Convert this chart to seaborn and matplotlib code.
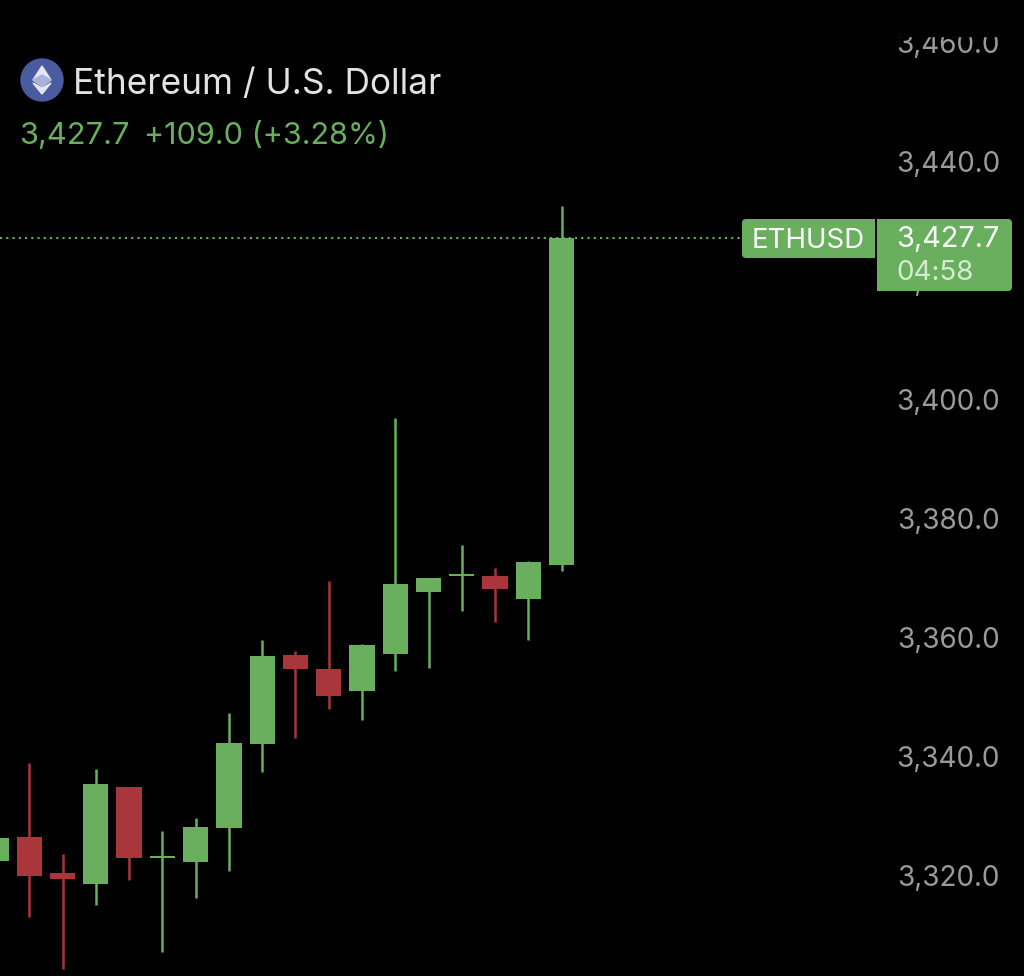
import numpy as np
import pandas as pd
import matplotlib
matplotlib.use("Agg")
import matplotlib.pyplot as plt
import matplotlib.transforms as mtransforms
from matplotlib.patches import Circle, FancyBboxPatch, Polygon, Rectangle
import seaborn as sns

# candles, oldest first (the first one is cut off by the left edge)
opens = [3323.0, 3327.0, 3320.9, 3319.1, 3335.4, 3323.5, 3322.8, 3328.5, 3342.7,
         3357.6, 3355.3, 3351.6, 3357.8, 3368.2, 3370.95, 3370.9, 3367.0, 3372.7]
closes = [3326.9, 3320.5, 3320.0, 3335.9, 3323.5, 3323.8, 3328.7, 3342.8, 3357.4,
          3355.3, 3350.7, 3359.3, 3369.5, 3370.6, 3371.25, 3368.7, 3373.2, 3427.7]
highs = [3326.9, 3339.5, 3324.2, 3338.5, 3335.4, 3328.0, 3330.2, 3347.9, 3360.1,
         3358.3, 3370.1, 3359.5, 3397.4, 3370.6, 3376.1, 3372.2, 3373.4, 3433.1]
lows = [3323.0, 3313.6, 3304.8, 3315.6, 3319.8, 3307.7, 3316.8, 3321.3, 3338.0,
        3343.7, 3348.5, 3346.7, 3354.9, 3355.4, 3365.0, 3363.2, 3360.1, 3371.7]
tick_values = [3320, 3340, 3360, 3380, 3400, 3420, 3440, 3460]
last_price = 3427.7

GREEN = "#69AF5E"
RED = "#A8363B"
BG = "#000000"
GREY = "#9A9A9A"

sns.set_theme(style="dark", rc={"axes.facecolor": BG, "figure.facecolor": BG})
plt.rcParams["font.family"] = ["Inter", "DejaVu Sans"]

df = pd.DataFrame({"open": opens, "close": closes, "high": highs, "low": lows})
df["candle"] = np.arange(len(df))
df["direction"] = np.where(df["close"] >= df["open"], "up", "down")
palette = {"up": GREEN, "down": RED}

fig = plt.figure(figsize=(10.24, 9.76), dpi=100)
ax = fig.add_axes([0, 0, 1, 1])

# wicks
wicks = df.melt(id_vars=["candle", "direction"], value_vars=["low", "high"], value_name="price")
sns.lineplot(data=wicks, x="candle", y="price", hue="direction", units="candle", estimator=None,
             palette=palette, linewidth=1.8, legend=False, ax=ax, zorder=2, solid_capstyle="butt")

# bodies
bottoms = df[["open", "close"]].min(axis=1)
heights = (df["open"] - df["close"]).abs()
ax.bar(df["candle"], heights, bottom=bottoms, width=0.76,
       color=df["direction"].map(palette), edgecolor="none", linewidth=0, zorder=3)

# stops at the ETHUSD badge
ax.axhline(last_price, xmax=744 / 1024, color=GREEN, linestyle=(0, (1, 2)), linewidth=1.5, zorder=1)

# one candle is 33.27 px, one price unit is 5.95 px
ax.set_xlim(4 / 33.27, (1024 + 4) / 33.27)
ax.set_ylim(last_price - 738 / 5.95, last_price + 238 / 5.95)
ax.set_xlabel("")
ax.set_ylabel("")
ax.set_xticks([])
ax.yaxis.tick_right()
ax.set_yticks(tick_values)
ax.set_yticklabels([f"{v:,.1f}" for v in tick_values])
ax.tick_params(axis="y", length=0, pad=-17.3, labelsize=20.1, labelcolor=GREY)
shift = mtransforms.ScaledTranslation(0, 2.2 / 72, fig.dpi_scale_trans)
for lab in ax.get_yticklabels():
    lab.set_ha("right")
    lab.set_transform(lab.get_transform() + shift)
sns.despine(ax=ax, left=True, right=True, top=True, bottom=True)

# overlay in image pixels for the header and the price badges
over = fig.add_axes([0, 0, 1, 1], facecolor="none")
over.set_xlim(0, 1024)
over.set_ylim(976, 0)
over.axis("off")

# top of the price scale is cut off
over.add_patch(Rectangle((880, 0), 144, 36, color=BG))

over.add_patch(Circle((42, 80), 21, color="#4A5BA0"))
over.add_patch(Polygon([(42, 66), (51, 80), (42, 86), (33, 80)], color="#E4E6F2"))
over.add_patch(Polygon([(42, 75), (51, 80), (42, 86), (33, 80)], color="#A9B2DA"))
over.add_patch(Polygon([(33, 83), (42, 88), (51, 83), (42, 94)], color="#E4E6F2"))

over.text(73, 84, "Ethereum / U.S. Dollar", color="#E2E2E2", fontsize=25.4, va="center", ha="left")
over.text(19, 136, "3,427.7", color=GREEN, fontsize=22.2, va="center", ha="left")
over.text(144, 136, "+109.0 (+3.28%)", color=GREEN, fontsize=22, va="center", ha="left")

over.add_patch(FancyBboxPatch((742, 219), 133, 39, boxstyle="round,pad=0,rounding_size=4",
                              color=GREEN, linewidth=0))
over.add_patch(Rectangle((865, 219), 10, 39, color=GREEN, linewidth=0))
over.add_patch(FancyBboxPatch((877, 219), 135, 72, boxstyle="round,pad=0,rounding_size=4",
                              color=GREEN, linewidth=0))
over.add_patch(Rectangle((877, 219), 10, 72, color=GREEN, linewidth=0))
over.text(752, 241, "ETHUSD", color="#FFFFFF", fontsize=19.9, va="center", ha="left")
over.text(896, 240, "3,427.7", color="#FFFFFF", fontsize=20.8, va="center", ha="left")
over.text(896, 273, "04:58", color="#D6ECD2", fontsize=20, va="center", ha="left")

fig.savefig("out.png", dpi=100, facecolor=BG)
